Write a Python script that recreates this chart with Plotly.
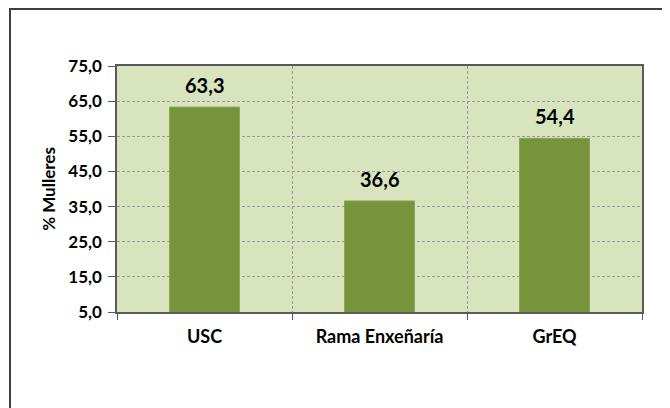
import plotly.graph_objects as go

categories = ["USC", "Rama Enxeñaría", "GrEQ"]
values = [63.3, 36.6, 54.4]
y_ticks = [5, 15, 25, 35, 45, 55, 65, 75]

FONT = "Lato"

fig = go.Figure()
fig.add_trace(go.Bar(
    x=categories, y=values, width=0.4,
    marker=dict(color="#77933C", line=dict(color="#8AA64C", width=1)),
    hoverinfo="skip",
))

for c, v in zip(categories, values):
    fig.add_annotation(
        x=c, y=v, text=f"<b>{v:.1f}</b>".replace(".", ","),
        showarrow=False, yanchor="middle", yshift=22,
        font=dict(family=FONT, size=20, color="#000000"),
    )

fig.update_layout(
    width=662, height=400,
    margin=dict(l=109, r=28, t=58, b=96),
    paper_bgcolor="white", plot_bgcolor="#D7E4BD",
    separators=",.",
    showlegend=False,
    font=dict(family=FONT, color="#000000"),
    shapes=[dict(type="rect", xref="paper", yref="paper",
                 x0=-107/525, x1=1.2, y0=1 + 57/246, y1=-0.5,
                 line=dict(color="#404040", width=2), layer="below")],
)
fig.update_xaxes(
    type="category", tickson="boundaries",
    showgrid=True, gridcolor="#9A9A9A", griddash="3px,2px", gridwidth=1,
    ticks="outside", ticklen=6, tickcolor="#595959",
    showline=True, linecolor="#595959", linewidth=1.5, mirror=True,
    ticklabelstandoff=8,
    tickfont=dict(family=FONT, size=18, color="#000000", weight="bold"),
)
fig.update_yaxes(
    range=[5, 75], tickvals=y_ticks, tickformat=".1f",
    showgrid=True, gridcolor="#9A9A9A", griddash="3px,2px", gridwidth=1,
    ticks="outside", ticklen=7, tickcolor="#595959",
    showline=True, linecolor="#595959", linewidth=1.5, mirror=True,
    zeroline=False, ticklabelstandoff=3,
    tickfont=dict(family=FONT, size=17, color="#000000", weight="bold"),
    title=dict(text="<b>% Mulleres</b>", font=dict(family=FONT, size=17), standoff=8),
)

fig.write_html("out.html")
